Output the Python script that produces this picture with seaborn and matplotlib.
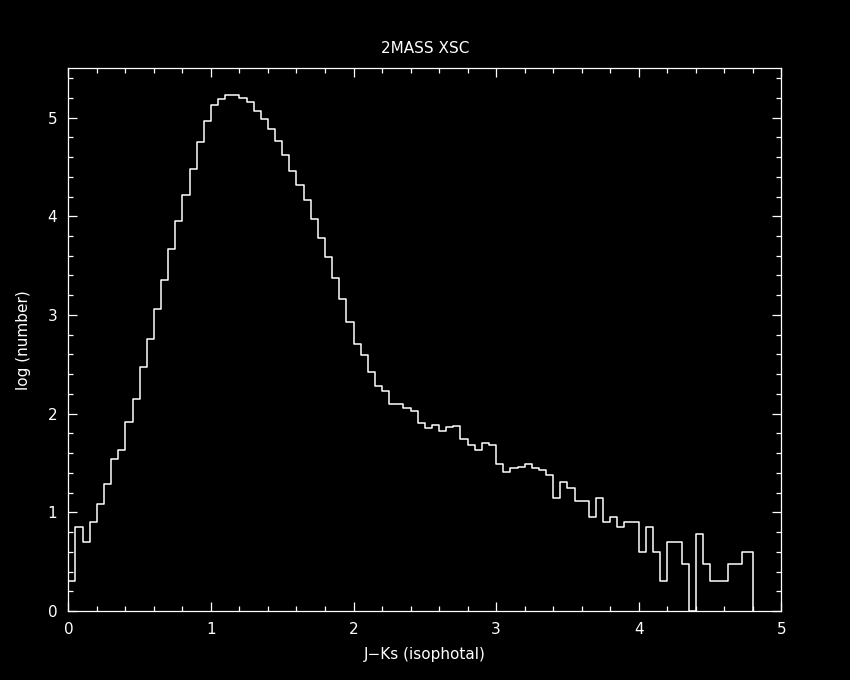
import matplotlib

matplotlib.use("Agg")

import matplotlib.pyplot as plt
import numpy as np
import pandas as pd
import seaborn as sns
from matplotlib.ticker import MultipleLocator

# log10 of counts per J-Ks bin
bin_width = 0.05
log_counts = [
    0.30, 0.85, 0.70, 0.90, 1.08, 1.29, 1.54, 1.63, 1.92, 2.15,
    2.47, 2.76, 3.06, 3.35, 3.67, 3.95, 4.22, 4.48, 4.75, 4.97,
    5.13, 5.19, 5.23, 5.23, 5.20, 5.16, 5.07, 4.99, 4.88, 4.76,
    4.62, 4.46, 4.32, 4.16, 3.97, 3.78, 3.59, 3.37, 3.16, 2.93,
    2.71, 2.59, 2.42, 2.28, 2.23, 2.10, 2.10, 2.06, 2.03, 1.90,
    1.85, 1.88, 1.82, 1.86, 1.87, 1.74, 1.68, 1.63, 1.70, 1.68,
    1.49, 1.41, 1.45, 1.46, 1.49, 1.45, 1.43, 1.38, 1.14, 1.31,
    1.25, 1.11, 1.11, 0.95, 1.14, 0.90, 0.95, 0.85, 0.90, 0.90,
    0.60, 0.85, 0.60, 0.30, 0.70, 0.70, 0.48, 0.00, 0.78, 0.48,
    # sparse tail: empty bins dropped, neighbours widened
    0.30, 0.48, 0.60,
]
tail_edges = [4.625, 4.725, 4.80]

x_ticks = [0, 1, 2, 3, 4, 5]
y_ticks = [0, 1, 2, 3, 4, 5]

title = "2MASS XSC"
x_label = "J\u2212Ks (isophotal)"
y_label = "log (number)"

n_uniform = len(log_counts) - len(tail_edges)
edges = np.append(np.arange(n_uniform + 1) * bin_width, tail_edges)
centers = (edges[:-1] + edges[1:]) / 2
df = pd.DataFrame({"jks": centers, "log_n": log_counts})

sns.set_theme(style="ticks")
plt.rcParams.update({
    "font.family": ["DejaVu Sans"],
    "figure.facecolor": "black",
    "axes.facecolor": "black",
    "axes.edgecolor": "white",
    "axes.labelcolor": "white",
    "text.color": "white",
    "xtick.color": "white",
    "ytick.color": "white",
    "axes.linewidth": 0.9,
})

fig = plt.figure(figsize=(8.5, 6.8), dpi=100)
ax = fig.add_axes([0.0804, 0.1015, 0.8388, 0.7981])

sns.histplot(
    data=df,
    x="jks",
    weights="log_n",
    bins=edges.tolist(),
    element="step",
    fill=False,
    color="white",
    linewidth=1.1,
    ax=ax,
)

# close the outline down to the baseline at the last edge, like pgbin does
step = ax.lines[-1]
xs, ys = step.get_data()
step.set_data(np.append(xs, xs[-1]), np.append(ys, 0.0))
step.set_alpha(1.0)

ax.set_xlim(0, 5)
ax.set_ylim(0, 5.5)
ax.set_xticks(x_ticks)
ax.set_yticks(y_ticks)
ax.xaxis.set_minor_locator(MultipleLocator(0.2))
ax.yaxis.set_minor_locator(MultipleLocator(0.2))
ax.tick_params(which="both", direction="in", top=True, right=True,
               colors="white", labelsize=11, pad=8)
ax.tick_params(which="major", length=6.2, width=0.9)
ax.tick_params(which="minor", length=3.4, width=0.9)
for side in ax.spines.values():
    side.set_visible(True)
    side.set_color("white")

ax.set_title(title, fontsize=11, color="white", pad=11)
ax.set_xlabel(x_label, fontsize=11, labelpad=7)
ax.set_ylabel(y_label, fontsize=11, labelpad=12)

fig.savefig("out.png", dpi=100, facecolor="black")
